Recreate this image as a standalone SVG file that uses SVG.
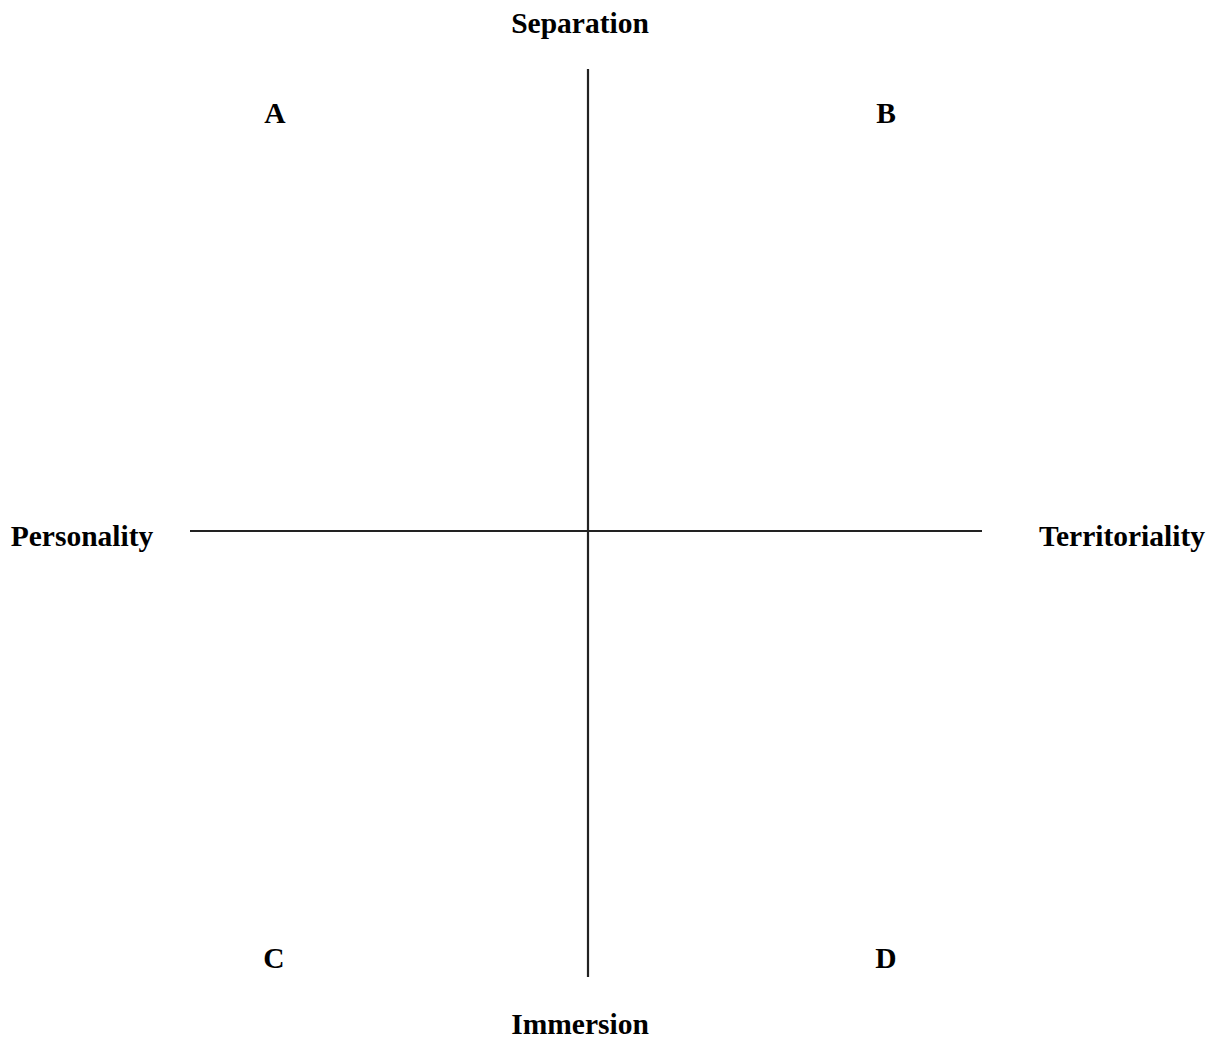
<svg xmlns="http://www.w3.org/2000/svg" width="1210" height="1037" viewBox="0 0 1210 1037">
<style>
text{font-family:"Liberation Serif","Times New Roman",serif;font-weight:bold;font-size:29.5px;fill:#000;text-anchor:middle}
.ax{stroke:#222;stroke-width:2.2;fill:none}
</style>
<rect width="1210" height="1037" fill="#fff"/>
<g id="connectors">
<line class="ax" x1="588" y1="69" x2="588" y2="977"/>
<line class="ax" x1="190" y1="531" x2="982" y2="531"/>
</g>
<g id="separation"><text x="580" y="33">Separation</text></g>
<g id="immersion"><text x="580" y="1034">Immersion</text></g>
<g id="personality"><text x="82" y="546">Personality</text></g>
<g id="territoriality"><text x="1122" y="546">Territoriality</text></g>
<g id="a"><text x="275" y="123">A</text></g>
<g id="b"><text x="886" y="123">B</text></g>
<g id="c"><text x="274" y="968">C</text></g>
<g id="d"><text x="886" y="968">D</text></g>
</svg>
